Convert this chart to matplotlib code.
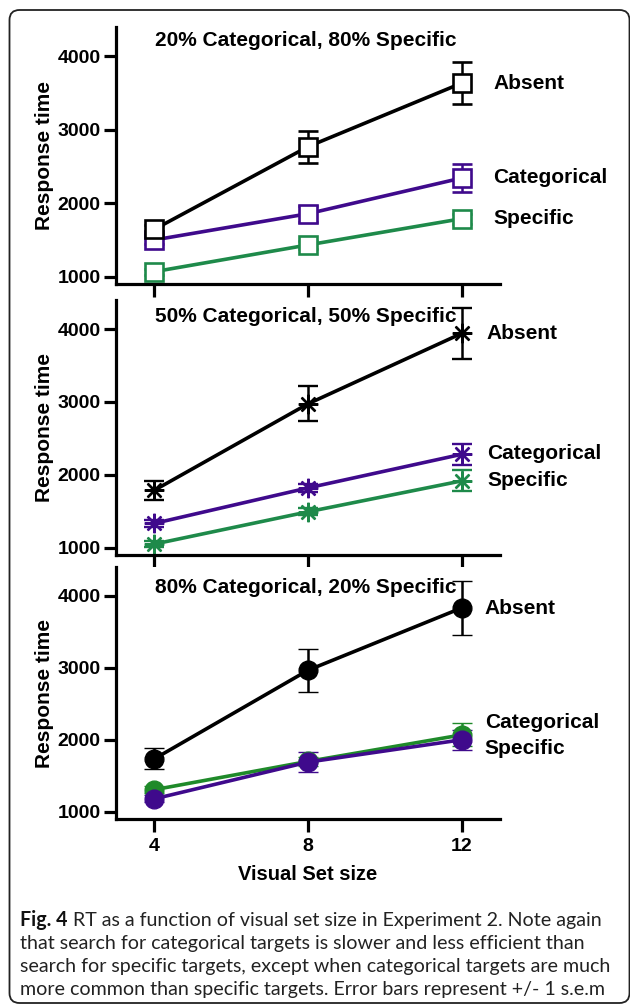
import matplotlib
matplotlib.use("Agg")
import matplotlib.pyplot as plt
from matplotlib.patches import FancyBboxPatch

# ---------------- data ----------------
set_size = [4, 8, 12]
x_ticks = [4, 8, 12]
y_ticks = [1000, 2000, 3000, 4000]

titles = ["20% Categorical, 80% Specific",
          "50% Categorical, 50% Specific",
          "80% Categorical, 20% Specific"]
series_names = ["Absent", "Categorical", "Specific"]

p1_absent = [1645, 2770, 3635]
p1_absent_err = [60, 220, 290]
p1_cat = [1500, 1857, 2343]
p1_cat_err = [60, 110, 190]
p1_spec = [1068, 1432, 1789]
p1_spec_err = [40, 60, 70]

p2_absent = [1789, 2975, 3941]
p2_absent_err = [130, 240, 350]
p2_cat = [1334, 1821, 2282]
p2_cat_err = [50, 60, 140]
p2_spec = [1050, 1493, 1917]
p2_spec_err = [40, 50, 145]

p3_absent = [1736, 2966, 3831]
p3_absent_err = [145, 300, 380]
p3_cat = [1180, 1690, 2000]
p3_cat_err = [50, 140, 135]
p3_spec = [1307, 1700, 2068]
p3_spec_err = [50, 60, 160]

# label anchor values (data y) for series names in each panel
p1_label_y = [3631, 2347, 1793]
p2_label_y = [3937, 2296, 1926]
p3_label_y = [3822, 2247, 1874]

caption_lines = [
    " RT as a function of visual set size in Experiment 2. Note again",
    "that search for categorical targets is slower and less efficient than",
    "search for specific targets, except when categorical targets are much",
    "more common than specific targets. Error bars represent +/- 1 s.e.m",
]

# ---------------- style ----------------
BLACK = "#000000"
PURPLE = "#3f0a8c"
GREEN = "#1e8a4a"
GREEN3 = "#1f8a2a"
FONT = "Liberation Sans"

W, H = 630, 1008
fig = plt.figure(figsize=(W / 100, H / 100), dpi=100)

# background axes in pixel coordinates for border + caption
bg = fig.add_axes([0, 0, 1, 1], zorder=-5)
bg.set_xlim(0, W)
bg.set_ylim(H, 0)
bg.axis("off")
bg.add_patch(FancyBboxPatch((9.5, 10), 620, 993,
                            boxstyle="round,pad=0,rounding_size=10",
                            fill=False, lw=1.3, ec="#222222"))

def px_axes(x0, x1, ytop, ybot):
    return fig.add_axes([x0 / W, 1 - ybot / H, (x1 - x0) / W, (ybot - ytop) / H])

ax1 = px_axes(116, 500, 27, 284)
ax2 = px_axes(116, 500, 300, 555)
ax3 = px_axes(116, 500, 567, 819)

panels = [
    (ax1, "s", [(p1_spec, p1_spec_err, GREEN), (p1_cat, p1_cat_err, PURPLE),
                (p1_absent, p1_absent_err, BLACK)], p1_label_y, 12.82, 0.949),
    (ax2, (8, 2, 0), [(p2_spec, p2_spec_err, GREEN), (p2_cat, p2_cat_err, PURPLE),
                      (p2_absent, p2_absent_err, BLACK)], p2_label_y, 12.66, 0.934),
    (ax3, "o", [(p3_spec, p3_spec_err, GREEN3), (p3_cat, p3_cat_err, PURPLE),
                (p3_absent, p3_absent_err, BLACK)], p3_label_y, 12.6, 0.92),
]

for i, (ax, marker, series, label_y, label_x, title_y) in enumerate(panels):
    for vals, errs, col in series:
        if marker == "s":
            mfc, ms, mew = "white", 13.5, 1.9
        elif marker == "o":
            mfc, ms, mew = col, 13.5, 1.0
        else:
            mfc, ms, mew = col, 14, 1.7
        ax.errorbar(set_size, vals, yerr=errs, color=col, lw=2.6,
                    marker=marker, ms=ms, mfc=mfc, mec=col, mew=mew,
                    elinewidth=1.8, capsize=7, capthick=1.8, clip_on=False)
    for name, yv in zip(series_names, label_y):
        ax.text(label_x, yv, name, fontsize=15, fontweight="bold",
                family=FONT, ha="left", va="center", clip_on=False)
    ax.text(0.495, title_y, titles[i], transform=ax.transAxes, fontsize=15,
            fontweight="bold", family=FONT, ha="center", va="center")
    ax.text(-0.185, 0.5, "Response time", transform=ax.transAxes, rotation=90,
            fontsize=15, fontweight="bold", family=FONT, ha="center", va="center")

    ax.set_xlim(3, 13)
    ax.set_ylim(900, 4400)
    ax.set_xticks(x_ticks)
    ax.set_yticks(y_ticks)
    ax.spines["top"].set_visible(False)
    ax.spines["right"].set_visible(False)
    for s in ("left", "bottom"):
        ax.spines[s].set_linewidth(2.3)
    ax.tick_params(axis="both", direction="out", width=2.3, length=9,
                   labelsize=14, pad=2)
    ax.tick_params(axis="x", pad=5)
    for lab in ax.get_xticklabels() + ax.get_yticklabels():
        lab.set_fontweight("bold")
        lab.set_family(FONT)
    if i < 2:
        ax.set_xticklabels([])

ax3.set_xlabel("Visual Set size", fontsize=14.5, fontweight="bold",
               family=FONT, labelpad=7)

# caption, sized so that the longest line fills the box width
renderer = fig.canvas.get_renderer()
cap_font = "Lato"
cap_left = 20
probe = bg.text(0, 0, caption_lines[2], fontsize=10, family=cap_font)
probe_w = probe.get_window_extent(renderer).width
probe.remove()
cap_size = 10 * 592 / probe_w
line_y = [926, 949, 972, 995]
t0 = bg.text(cap_left, line_y[0], "Fig. 4", fontsize=cap_size, fontweight="bold",
             family=cap_font, va="baseline", ha="left", color="#111111")
bb = t0.get_window_extent(renderer)
bg.text(cap_left + bb.width, line_y[0], caption_lines[0], fontsize=cap_size,
        family=cap_font, va="baseline", ha="left", color="#222222")
for ly, txt in zip(line_y[1:], caption_lines[1:]):
    bg.text(cap_left, ly, txt, fontsize=cap_size, family=cap_font,
            va="baseline", ha="left", color="#222222")

fig.savefig("out.png", dpi=100)
